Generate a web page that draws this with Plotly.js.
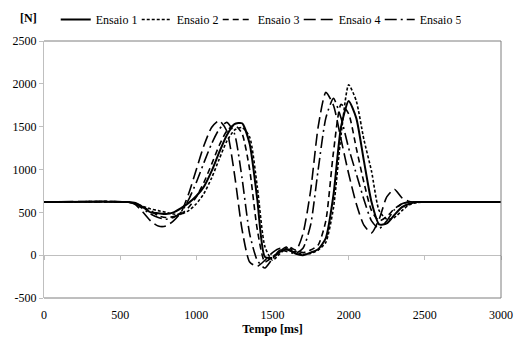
<!DOCTYPE html>
<html>
<head>
<meta charset="utf-8">
<script src="https://cdn.plot.ly/plotly-3.0.1.min.js"></script>
<style>html,body{margin:0;padding:0;background:#fff;}#chart{width:516px;height:338px;}
#chart text{font-family:'Times New Roman','Liberation Serif',serif !important;}</style>
</head>
<body>
<div id="chart"></div>
<script>
const tempo = [0,550,600,650,700,750,800,850,900,950,1000,1050,1100,1150,1200,1250,1300,1350,1400,1450,1500,1550,1600,1650,1700,1750,1800,1850,1900,1950,2000,2050,2100,2150,2200,2250,2300,2350,2400,2450,2500,3000];
const ensaio1 = [620,620,610,560,500,490,480,500,550,610,690,800,980,1200,1400,1530,1540,1300,650,-20,-30,40,70,20,0,30,70,200,700,1500,1800,1600,1100,620,360,370,470,560,600,620,620,620];
const ensaio2 = [620,620,600,570,540,520,500,480,480,520,600,720,900,1120,1330,1460,1490,1380,800,100,-60,20,90,40,10,20,60,150,550,1400,1990,1800,1350,980,520,420,440,520,590,615,620,620];
const ensaio3 = [620,620,605,560,520,460,440,450,480,560,680,850,1060,1280,1450,1520,1420,1000,300,-80,-20,50,100,60,30,60,120,400,1200,1760,1650,1250,850,520,400,450,540,600,620,620,620,620];
const ensaio4 = [620,620,590,500,400,340,340,400,500,720,1000,1280,1490,1570,1450,950,300,-80,-130,-60,30,80,60,40,250,750,1500,1900,1750,1350,950,600,350,260,420,680,770,670,625,620,620,620];
const ensaio5 = [620,620,600,540,480,440,420,440,500,650,850,1080,1300,1470,1550,1420,900,250,-60,-150,-40,60,40,20,80,350,1000,1600,1830,1600,1250,950,650,400,310,400,530,600,620,620,620,620];
const seriesNames = ['Ensaio 1','Ensaio 2','Ensaio 3','Ensaio 4','Ensaio 5'];
const xTicks = [0,500,1000,1500,2000,2500,3000];
const yTicks = [-500,0,500,1000,1500,2000,2500];

const vals = [ensaio1, ensaio2, ensaio3, ensaio4, ensaio5];
const dashes = ['solid','3px,2px','6px,4px','12px,5px','12px,4px,2px,4px'];
const widths = [2, 1.6, 1.6, 1.6, 1.6];
const traces = vals.map((v,i)=>({
  x: tempo, y: v, name: seriesNames[i], type:'scatter', mode:'lines',
  line:{color:'#000', width:widths[i], dash:dashes[i], shape:'spline', smoothing:0.6},
  hoverinfo:'skip'
}));
// invisible trace carrying the x tick marks on the zero line
traces.push({x:[0,3000], y:[0,0], xaxis:'x2', yaxis:'y', mode:'lines', line:{width:0,color:'rgba(0,0,0,0)'}, showlegend:false, hoverinfo:'skip'});

const FAM = 'Times New Roman';
const mkFont = () => ({family:FAM, size:12, color:'#000'});
const layout = {
  width:516, height:338,
  margin:{l:44, r:15, t:41, b:40},
  paper_bgcolor:'#fff', plot_bgcolor:'#fff',
  font: mkFont(),
  showlegend:true,
  legend:{orientation:'h', xref:'container', yref:'container', x:0.108, y:0.985, xanchor:'left', yanchor:'top', font:mkFont(),
          itemwidth:30, entrywidth:36, entrywidthmode:'pixels', tracegroupgap:0, bgcolor:'rgba(0,0,0,0)'},
  xaxis:{range:[0,3000], tickvals:xTicks, ticktext:xTicks.map(String), showgrid:false, zeroline:false, showline:false,
         ticks:'outside', ticklen:6, tickcolor:'rgba(0,0,0,0)', tickfont:mkFont(),
         title:{text:'<b>Tempo [ms]</b>', font:mkFont(), standoff:2}},
  xaxis2:{range:[0,3000], overlaying:'x', anchor:'free', position:1/6, tickvals:xTicks, showticklabels:false,
          ticks:'outside', ticklen:4, tickcolor:'#bfbfbf', showgrid:false, zeroline:false, showline:false},
  yaxis:{range:[-500,2500], tickvals:yTicks, ticktext:yTicks.map(String), showgrid:false, zeroline:true, zerolinecolor:'#bfbfbf', zerolinewidth:1,
         showline:true, linecolor:'#bfbfbf', linewidth:1, ticks:'outside', ticklen:4, tickcolor:'#bfbfbf', tickfont:mkFont()},
  shapes:[
    {type:'line', xref:'x domain', yref:'y domain', x0:0, x1:1, y0:1, y1:1, line:{color:'#7f7f7f', width:1}},
    {type:'line', xref:'x domain', yref:'y domain', x0:1, x1:1, y0:0, y1:1, line:{color:'#7f7f7f', width:1}},
    {type:'line', xref:'x domain', yref:'y domain', x0:0, x1:1, y0:0, y1:0, line:{color:'#7f7f7f', width:1}}
  ],
  annotations:[
    {text:'<b>[N]</b>', xref:'paper', yref:'paper', x:-0.057, y:1.09, xanchor:'left', yanchor:'middle', showarrow:false, font:mkFont()}
  ]
};
Plotly.newPlot('chart', traces, layout, {displayModeBar:false, staticPlot:true});
</script>
</body>
</html>
